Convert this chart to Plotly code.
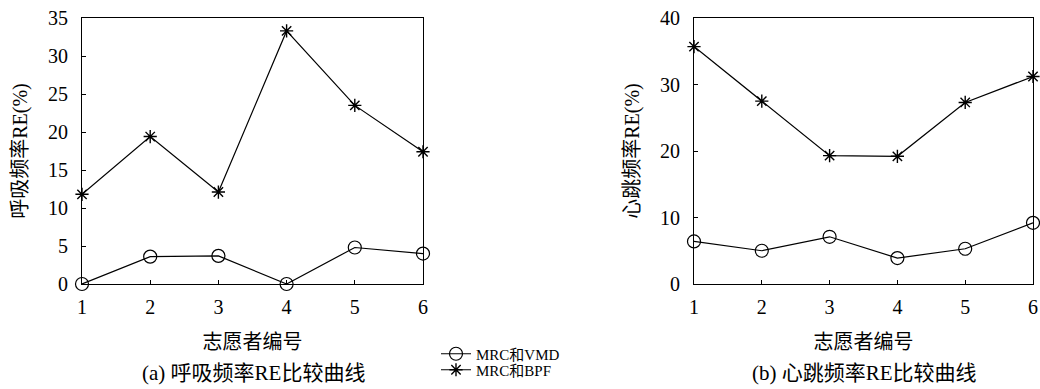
import plotly.graph_objects as go

volunteers = [1, 2, 3, 4, 5, 6]
resp_vmd = [0.0, 3.6, 3.7, 0.0, 4.8, 4.0]
resp_bpf = [11.8, 19.4, 12.1, 33.3, 23.5, 17.4]
heart_vmd = [6.4, 5.0, 7.1, 3.9, 5.3, 9.2]
heart_bpf = [35.7, 27.5, 19.3, 19.2, 27.3, 31.2]

serif = "Liberation Serif, DejaVu Serif, serif"
cjk = "Liberation Serif, Noto Sans CJK SC, serif"

FW = 1040
FH = 389


def px(x):
    return x / FW


def py(y):
    return 1 - y / FH


fig = go.Figure()
line = dict(color="black", width=1.2)
circ = dict(symbol="circle-open", size=13, color="black", line=dict(width=1.2))
star = dict(symbol="asterisk-open", size=11, color="black", line=dict(width=1.4))

fig.add_trace(go.Scatter(x=volunteers, y=resp_vmd, mode="lines+markers", name="MRC和VMD",
                         line=line, marker=circ, cliponaxis=False, xaxis="x", yaxis="y",
                         legend="legend"))
fig.add_trace(go.Scatter(x=volunteers, y=resp_bpf, mode="lines+markers", name="MRC和BPF",
                         line=line, marker=star, cliponaxis=False, xaxis="x", yaxis="y",
                         legend="legend2"))
fig.add_trace(go.Scatter(x=volunteers, y=heart_vmd, mode="lines+markers", name="MRC和VMD",
                         line=line, marker=circ, cliponaxis=False, xaxis="x2", yaxis="y2", showlegend=False))
fig.add_trace(go.Scatter(x=volunteers, y=heart_bpf, mode="lines+markers", name="MRC和BPF",
                         line=line, marker=star, cliponaxis=False, xaxis="x2", yaxis="y2", showlegend=False))

ydom = [py(284), py(18)]
axcommon = dict(showgrid=False, zeroline=False, showline=True, linecolor="black", linewidth=1,
                mirror=True, ticks="inside", ticklen=4, tickcolor="black", automargin=False,
                ticklabeloverflow="allow",
                tickfont=dict(family=serif, size=20, color="black"))
title_font = dict(family=cjk, size=20, color="black")
leg_common = dict(x=px(436), xanchor="left", yanchor="middle",
                  font=dict(family=cjk, size=15, color="black"),
                  itemwidth=30, bgcolor="rgba(0,0,0,0)", borderwidth=0)

fig.update_layout(
    width=FW, height=FH,
    margin=dict(l=0, r=0, t=0, b=0),
    paper_bgcolor="white", plot_bgcolor="white",
    showlegend=True,
    legend=dict(y=py(354), **leg_common),
    legend2=dict(y=py(370), **leg_common),
    xaxis=dict(domain=[px(82), px(423)], range=[1, 6], tickvals=volunteers, anchor="y",
               ticklabelstandoff=5,
               title=dict(text="志愿者编号", font=title_font, standoff=17),
               **axcommon),
    yaxis=dict(domain=ydom, range=[0, 35], tickvals=[0, 5, 10, 15, 20, 25, 30, 35], anchor="x",
               ticklabelstandoff=9,
               title=dict(text="呼吸频率RE(%)", font=title_font, standoff=15),
               **axcommon),
    xaxis2=dict(domain=[px(694), px(1033)], range=[1, 6], tickvals=volunteers, anchor="y2",
                ticklabelstandoff=5,
                title=dict(text="志愿者编号", font=title_font, standoff=17),
                **axcommon),
    yaxis2=dict(domain=ydom, range=[0, 40], tickvals=[0, 10, 20, 30, 40], anchor="x2",
                ticklabelstandoff=9,
                title=dict(text="心跳频率RE(%)", font=title_font, standoff=15),
                **axcommon),
    annotations=[
        dict(text="(a) 呼吸频率RE比较曲线", x=px(253), y=py(373), xref="paper", yref="paper",
             xanchor="center", yanchor="middle", showarrow=False,
             font=dict(family=cjk, size=21, color="black")),
        dict(text="(b) 心跳频率RE比较曲线", x=px(864), y=py(373), xref="paper", yref="paper",
             xanchor="center", yanchor="middle", showarrow=False,
             font=dict(family=cjk, size=21, color="black")),
    ],
)

fig.write_html("out.html", config={"displayModeBar": False},
               post_script="document.body.style.margin='0';document.body.style.overflow='hidden';")
